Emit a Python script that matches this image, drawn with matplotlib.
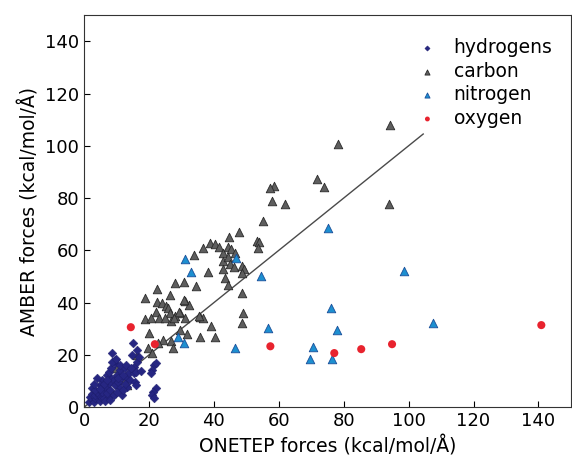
import matplotlib
matplotlib.use('Agg')
import matplotlib.pyplot as plt
import numpy as np

# hydrogen forces (ONETEP, AMBER)
h_x = [1.5, 2.5, 3.1, 1.8, 3.4, 2.5, 3.5, 4.6, 4.9, 5.5, 6.1, 4.0, 2.5, 3.4, 5.5, 6.4,
       7.7, 7.0, 8.0, 9.2, 7.7, 5.5, 4.0, 4.9, 6.0, 8.0, 7.1, 9.2, 9.5, 10.5, 11.1, 11.7,
       10.0, 7.7, 8.3, 10.1, 11.1, 11.7, 12.6, 13.2, 13.8, 15.4, 14.1, 15.7, 13.2, 16.0,
       12.5, 9.5, 11.1, 9.4, 8.6, 8.6, 9.8, 15.3, 15.9, 16.3, 16.9, 14.7, 16.2, 15.1,
       21.5, 22.1, 20.9, 20.5, 22.1, 21.2, 20.9, 21.5, 6.5, 8.0, 12.0, 10.5, 13.0, 12.0,
       14.5, 17.5, 5.0, 7.0, 3.0]
h_y = [1.9, 3.0, 1.9, 3.8, 3.4, 5.0, 4.5, 4.6, 2.3, 3.5, 3.4, 6.0, 7.3, 6.5, 5.7, 7.7,
       3.8, 5.5, 6.5, 4.6, 9.2, 10.3, 11.1, 8.4, 9.0, 11.5, 12.2, 10.3, 8.4, 9.5, 7.3, 4.6,
       6.0, 13.4, 14.9, 12.2, 14.2, 11.5, 14.9, 11.1, 13.0, 13.0, 10.3, 9.6, 7.7, 8.4,
       9.0, 16.8, 16.1, 18.0, 17.2, 20.7, 18.4, 15.3, 13.4, 17.2, 19.1, 19.9, 21.8, 24.5,
       16.1, 16.8, 14.2, 13.0, 7.3, 6.0, 4.6, 3.4, 2.5, 2.8, 6.5, 11.0, 16.0, 12.5,
       15.0, 14.0, 7.0, 10.5, 9.0]

# carbon
c_x = [94.3, 78.3, 71.8, 74.0, 58.6, 57.4, 58.0, 62.0, 94.0, 55.0, 47.6, 44.8, 53.4, 54.0,
       53.7, 38.7, 40.2, 41.5, 36.5, 33.8, 42.7, 44.5, 45.4, 46.4, 42.7, 44.2, 45.1, 46.1,
       48.8, 49.4, 48.8, 42.7, 38.1, 43.3, 44.5, 30.7, 34.4, 48.8, 31.0, 32.2, 49.1, 48.8,
       35.6, 36.5, 39.0, 29.5, 31.0, 27.9, 22.4, 26.4, 18.7, 22.4, 23.9, 25.2, 25.8, 30.7,
       22.1, 23.0, 26.4, 27.9, 29.2, 18.7, 20.6, 24.9, 26.7, 27.6, 35.3, 20.0, 29.5, 31.6,
       35.6, 40.2, 24.3, 26.7, 22.7, 19.6, 27.3, 16.3, 20.9, 9.8, 12.3, 13.2, 8.6]
c_y = [107.9, 100.6, 87.2, 84.2, 84.5, 83.8, 78.8, 77.7, 77.7, 71.2, 66.9, 65.0, 63.5, 63.1,
       60.8, 62.7, 62.4, 61.2, 60.8, 58.1, 58.9, 61.2, 60.4, 58.9, 55.9, 57.4, 54.7, 53.6,
       53.9, 52.8, 51.3, 52.8, 51.6, 49.3, 46.7, 47.8, 46.3, 43.6, 40.6, 39.0, 36.0, 32.1,
       34.4, 34.0, 31.0, 36.0, 34.0, 47.4, 45.1, 42.8, 41.7, 40.2, 39.8, 38.6, 37.9, 40.9,
       36.3, 34.0, 36.0, 34.8, 36.3, 33.7, 34.0, 34.0, 32.9, 34.0, 34.8, 28.3, 29.5, 27.9,
       26.8, 26.8, 25.6, 25.3, 24.5, 22.6, 22.6, 19.9, 20.7, 14.9, 10.3, 8.4, 5.4]

# nitrogen
n_x = [31.0, 32.9, 46.7, 54.6, 75.2, 98.6, 76.1, 56.6, 78.0, 46.4, 70.6, 69.7, 76.5,
       107.5, 28.9, 30.7]
n_y = [56.7, 51.7, 57.0, 50.1, 68.5, 52.0, 37.9, 30.2, 29.5, 22.6, 23.0, 18.4, 18.4,
       32.1, 26.8, 24.5]

# oxygen
o_x = [14.4, 21.8, 57.4, 77.1, 85.4, 94.9, 140.9]
o_y = [30.6, 24.1, 23.3, 20.7, 22.2, 24.1, 31.4]

# fitted line end points
fit_x = [0, 104.5]
fit_y = [0, 104.5]

fig = plt.figure(figsize=(5.72, 4.57), dpi=100)
ax = fig.add_axes([0.147, 0.109, 0.851, 0.858])

ax.plot(fit_x, fit_y, color='#4a4a4a', linewidth=1, zorder=1)
ax.scatter(h_x, h_y, marker='D', s=20, color='#262682', edgecolors='#1c1c6a',
           linewidths=0.3, label='hydrogens', zorder=3)
ax.scatter(c_x, c_y, marker='^', s=38, color='#5e5e5e', edgecolors='#2a2a2a',
           linewidths=0.6, label='carbon', zorder=2)
ax.scatter(n_x, n_y, marker='^', s=38, color='#1d8fd0', edgecolors='#1a4f9a',
           linewidths=0.6, label='nitrogen', zorder=2)
ax.scatter(o_x, o_y, marker='o', s=34, color='#e8232e', edgecolors='none',
           label='oxygen', zorder=2)

ax.set_xlim(0, 150)
ax.set_ylim(0, 150)
ax.set_xticks(np.arange(0, 141, 20))
ax.set_yticks(np.arange(0, 141, 20))
ax.tick_params(direction='in', labelsize=13, length=4, width=0.8)
for s in ax.spines.values():
    s.set_color('#333333')
    s.set_linewidth(0.8)

ax.set_xlabel('ONETEP forces (kcal/mol/Å)', fontsize=13.5)
ax.set_ylabel('AMBER forces (kcal/mol/Å)', fontsize=13.5)

ax.legend(loc='upper right', frameon=False, fontsize=13.5, scatterpoints=1,
          markerscale=0.6, handletextpad=0.4, labelspacing=0.25,
          bbox_to_anchor=(0.997, 0.985))

plt.savefig('out.png', dpi=100)
